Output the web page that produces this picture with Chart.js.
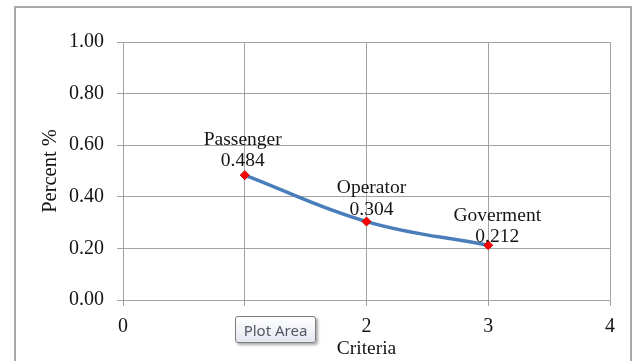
<!DOCTYPE html>
<html>
<head>
<meta charset="utf-8">
<script src="https://cdn.jsdelivr.net/npm/chart.js@4.4.1/dist/chart.umd.min.js"></script>
<style>
  html, body { margin: 0; padding: 0; background: #ffffff; overflow: hidden; }
  #wrap { position: relative; width: 640px; height: 361px; }
  #frame {
    position: absolute; left: 14px; top: 6px; width: 618px; height: 420px;
    border: 2px solid #a9a9a9; box-sizing: border-box;
  }
  #chart { position: absolute; left: 0; top: 0; }
  #hint {
    position: absolute; left: 235px; top: 316px; width: 81px; height: 27px;
    box-sizing: border-box; border: 1px solid #7c7c7c; border-radius: 3px;
    background: linear-gradient(#ffffff, #e3e7ee);
    box-shadow: 2px 2px 3px rgba(0,0,0,0.35);
    font: 15px "Noto Sans", sans-serif; color: #525866;
    display: flex; align-items: center; justify-content: center;
  }
</style>
</head>
<body>
<div id="wrap">
  <div id="frame"></div>
  <canvas id="chart" width="640" height="361"></canvas>
  <div id="hint">Plot Area</div>
</div>
<script>
// Criteria weights
const criteria = ['Passenger', 'Operator', 'Goverment'];
const criteriaX = [1, 2, 3];
const percent = [0.484, 0.304, 0.212];

// Axis tick labels
const xTickLabels = ['0', '1', '2', '3', '4'];
const yTickLabels = ['0.00', '0.20', '0.40', '0.60', '0.80', '1.00'];

// Nudges for the two-line point labels (px)
const labelShift = [[-2, -9], [5, -7], [9, -3]];

const serif = '"Liberation Serif", "Times New Roman", serif';
const gridColor = '#a3a3a3';
const textColor = '#141414';

const points = criteriaX.map((x, i) => ({ x: x, y: percent[i] }));

const pointLabels = {
  id: 'pointLabels',
  afterDatasetsDraw(chart) {
    const ctx = chart.ctx;
    const meta = chart.getDatasetMeta(0);
    ctx.save();
    ctx.font = '19.5px ' + serif;
    ctx.fillStyle = textColor;
    ctx.textAlign = 'center';
    ctx.textBaseline = 'alphabetic';
    meta.data.forEach((el, i) => {
      const x = el.x + labelShift[i][0];
      const y = el.y + labelShift[i][1];
      ctx.fillText(percent[i].toFixed(3), x, y);
      ctx.fillText(criteria[i], x, y - 21.5);
    });
    ctx.restore();
  }
};

new Chart(document.getElementById('chart'), {
  type: 'scatter',
  data: {
    datasets: [{
      data: points,
      showLine: true,
      borderColor: '#4a7ebb',
      borderWidth: 3.5,
      tension: 0.4,
      pointStyle: 'rectRot',
      pointRadius: 4.5,
      pointBackgroundColor: '#ff0000',
      pointBorderColor: '#d00000',
      pointBorderWidth: 1
    }]
  },
  options: {
    responsive: false,
    animation: false,
    events: [],
    layout: { padding: { top: 42, right: 30, left: 0, bottom: 0 } },
    plugins: {
      legend: { display: false },
      tooltip: { enabled: false }
    },
    scales: {
      x: {
        type: 'linear',
        min: 0, max: 4,
        afterFit(scale) { scale.height = 61; },
        ticks: {
          stepSize: 1,
          padding: 9,
          color: textColor,
          font: { family: serif, size: 20 },
          callback: (v, i) => xTickLabels[i]
        },
        grid: { color: gridColor, lineWidth: 1, tickLength: 6, drawTicks: true },
        border: { color: gridColor, width: 1 },
        title: {
          display: true, text: 'Criteria', color: textColor,
          font: { family: serif, size: 19.5 },
          padding: { top: 0, bottom: 0 }
        }
      },
      y: {
        min: 0, max: 1,
        afterFit(scale) { scale.width = 123; },
        ticks: {
          stepSize: 0.2,
          padding: 13,
          color: textColor,
          font: { family: serif, size: 20 },
          callback: (v, i) => yTickLabels[i]
        },
        grid: { color: gridColor, lineWidth: 1, tickLength: 6, drawTicks: true },
        border: { color: gridColor, width: 1 },
        title: {
          display: true, text: 'Percent %', color: textColor,
          font: { family: serif, size: 20.5 },
          padding: { top: 38, bottom: 0 }
        }
      }
    }
  },
  plugins: [pointLabels]
});
</script>
</body>
</html>
